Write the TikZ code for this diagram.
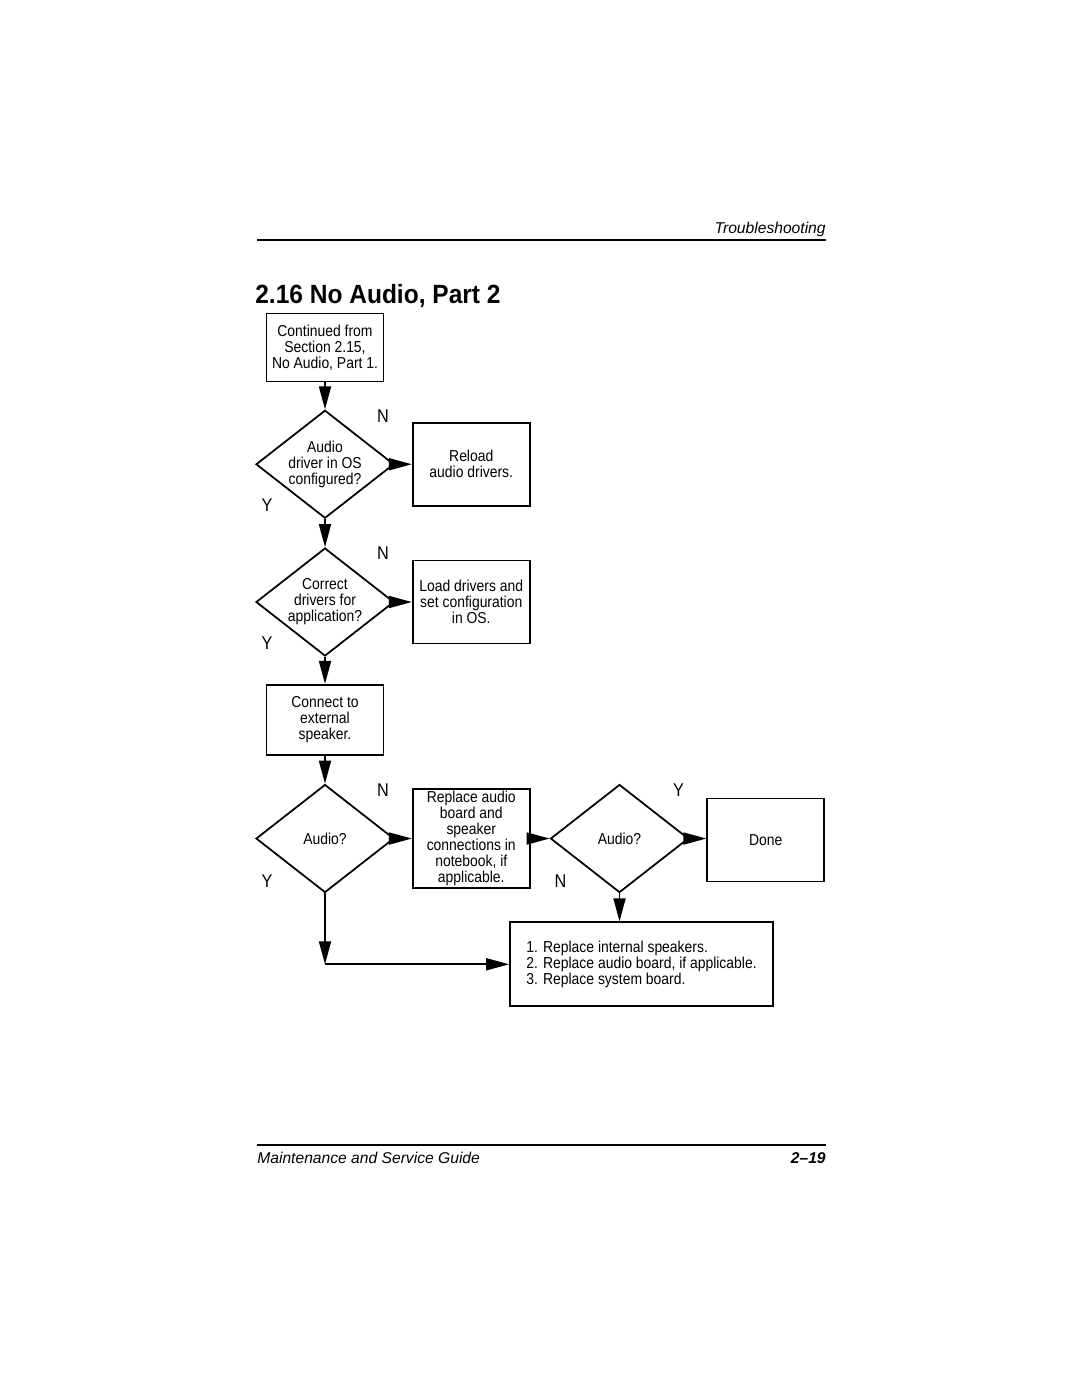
\documentclass[tikz,border=0pt]{standalone}
\usepackage{fontspec}
\setmainfont{Liberation Sans}
\newfontfamily\chartfont[FakeStretch=0.88]{Liberation Sans}
\newfontfamily\titlefont[FakeStretch=0.93]{Liberation Sans}
\usepackage{tikz}
\usetikzlibrary{positioning,arrows.meta,shapes.geometric,calc}
\tikzset{
  stepbox/.style={draw, line width=1pt, align=center, minimum width=2.34cm,
    minimum height=1.66cm, inner sep=1pt, font=\chartfont\fontsize{9}{9.07}\selectfont},
  decision/.style={diamond, draw, line width=1pt, align=center, aspect=1.27, minimum width=2.76cm,
    minimum height=2.16cm, inner sep=0pt, font=\chartfont\fontsize{9}{9.07}\selectfont},
  flowarrow/.style={-{Triangle[length=0.46cm,width=0.24cm]}, line width=1pt},
  ynlabel/.style={font=\chartfont\fontsize{10.5}{12}\selectfont, inner sep=0pt},
  pagerule/.style={line width=0.6pt}
}

\begin{document}
\begin{tikzpicture}[node distance=0.54cm and 0.34cm]
    \useasboundingbox (0,0) rectangle (21.6,-27.94);

    % page header and footer
    \draw[pagerule] (5.14,-4.8) -- (16.52,-4.8);
    \node[anchor=base east, inner sep=0pt, font=\fontsize{8.9}{10}\selectfont\itshape] (head) at (16.52,-4.66) {Troubleshooting};
    \node[anchor=base west, inner sep=0pt, font=\titlefont\fontsize{15}{18}\selectfont\bfseries] (title) at (5.1,-6.06) {2.16 No Audio, Part 2};
    \draw[pagerule] (5.14,-22.9) -- (16.52,-22.9);
    \node[anchor=base west, inner sep=0pt, font=\fontsize{8.9}{10}\selectfont\itshape] (foot) at (5.14,-23.26) {Maintenance and Service Guide};
    \node[anchor=base east, inner sep=0pt, font=\fontsize{8.9}{10}\selectfont\bfseries\itshape] (pageno) at (16.52,-23.26) {2--19};

    % flowchart
    \node[stepbox, minimum height=1.36cm] (start) at (6.5,-6.95) {Continued from\\Section 2.15,\\No Audio, Part 1.};
    \node[decision, below=of start] (drvos) {Audio\\driver in OS\\configured?};
    \node[stepbox, right=of drvos] (reload) {Reload\\audio drivers.};
    \node[decision, below=0.56cm of drvos] (drvapp) {Correct\\drivers for\\application?};
    \node[stepbox, right=of drvapp] (load) {Load drivers and\\set configuration\\in OS.};
    \node[stepbox, minimum height=1.4cm, below=of drvapp] (ext) {Connect to\\external\\speaker.};
    \node[decision, below=0.56cm of ext] (audioa) {Audio?};
    \node[stepbox, minimum height=1.98cm, right=of audioa] (board) {Replace audio\\board and\\speaker\\connections in\\notebook, if\\applicable.};
    \node[decision, right=0.38cm of board] (audiob) {Audio?};
    \node[stepbox, right=of audiob, yshift=-0.03cm] (done) {Done};
    \node[stepbox, minimum width=5.26cm, minimum height=1.68cm, align=left, below=0.56cm of audiob, xshift=0.44cm] (final)
      {1. Replace internal speakers.\\2. Replace audio board, if applicable.\\3. Replace system board.};
    \coordinate (bend) at (audioa.south |- final.west);

    \node[ynlabel] (n1) at ($(drvos)+(1.16,0.97)$) {N};
    \node[ynlabel] (y1) at ($(drvos)+(-1.16,-0.82)$) {Y};
    \node[ynlabel] (n2) at ($(drvapp)+(1.16,0.97)$) {N};
    \node[ynlabel] (y2) at ($(drvapp)+(-1.16,-0.82)$) {Y};
    \node[ynlabel] (n3) at ($(audioa)+(1.16,0.97)$) {N};
    \node[ynlabel] (y3) at ($(audioa)+(-1.16,-0.86)$) {Y};
    \node[ynlabel] (y4) at ($(audiob)+(1.18,0.97)$) {Y};
    \node[ynlabel] (n4) at ($(audiob)+(-1.18,-0.86)$) {N};

    \draw[flowarrow] (start) -- (drvos);
    \draw[flowarrow] (drvos) -- (reload);
    \draw[flowarrow] (drvos) -- (drvapp);
    \draw[flowarrow] (drvapp) -- (load);
    \draw[flowarrow] (drvapp) -- (ext);
    \draw[flowarrow] (ext) -- (audioa);
    \draw[flowarrow] (audioa) -- (board);
    \draw[flowarrow] (board) -- (audiob);
    \draw[flowarrow] (audiob.east) -- (done.west |- audiob.east);
    \draw[flowarrow] (audiob.south) -- (audiob.south |- final.north);
    \draw[flowarrow] (audioa) -- (bend);
    \draw[flowarrow] (bend) -- (final);
  \end{tikzpicture}
\end{document}
